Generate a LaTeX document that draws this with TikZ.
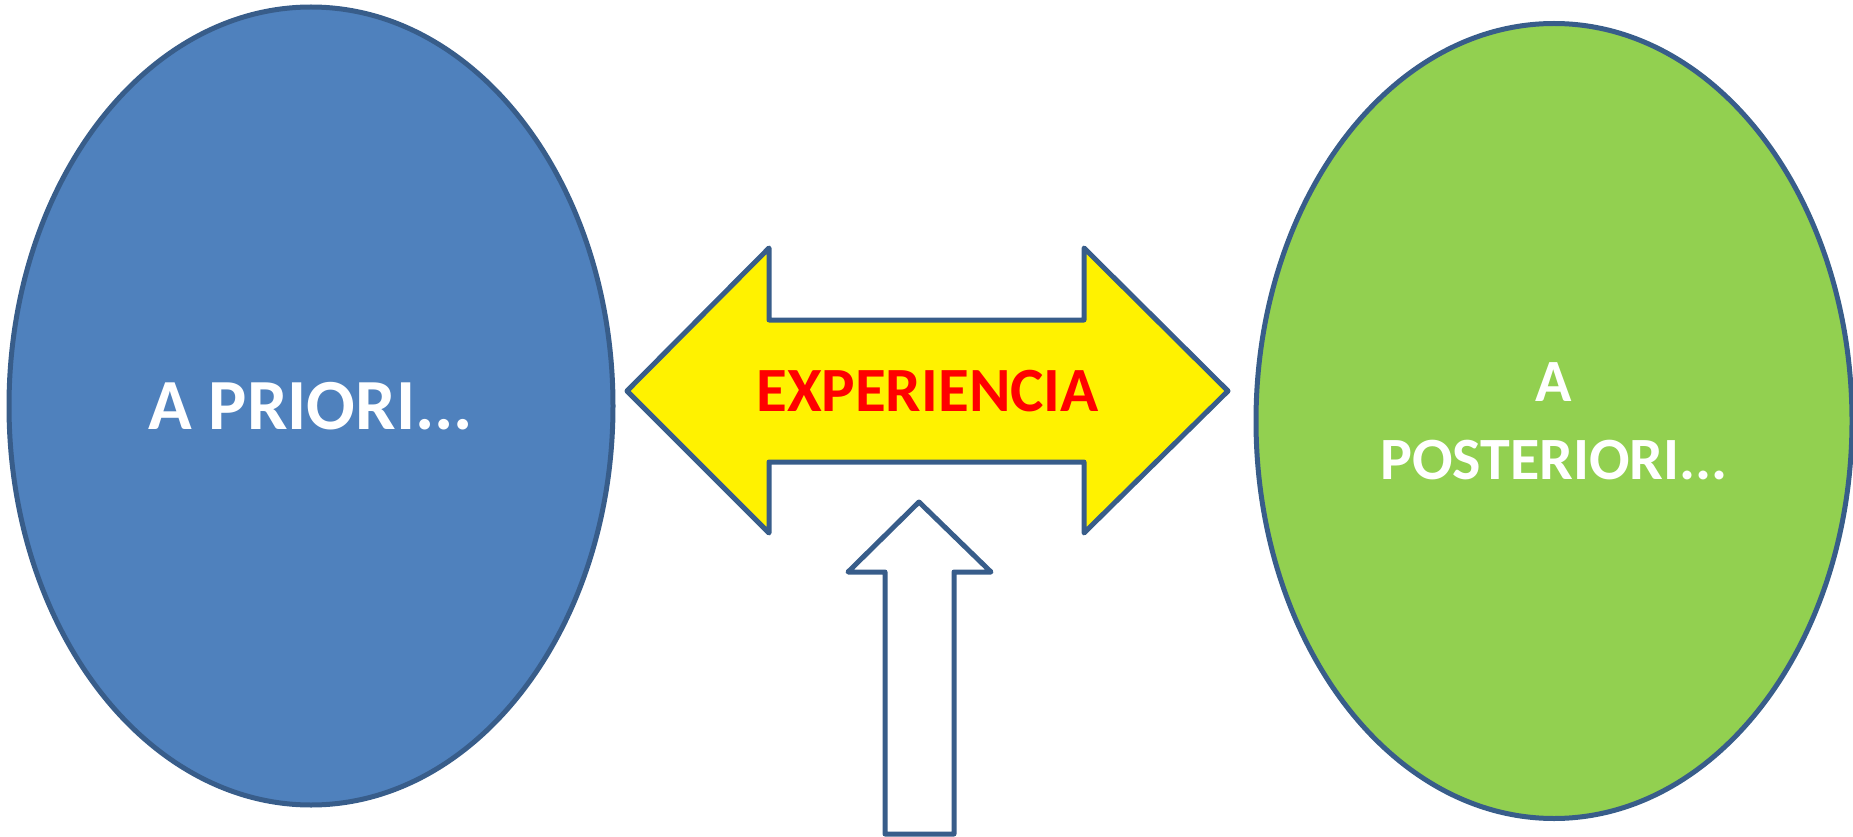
\documentclass[tikz,border=0pt]{standalone}
\usepackage{fontspec}
\setmainfont{Carlito}
\usetikzlibrary{positioning}
\usetikzlibrary{shapes.geometric}

\definecolor{edgeblue}{HTML}{385D8A}
\definecolor{prioriblue}{HTML}{4F81BD}
\definecolor{posteriorigreen}{HTML}{92D050}

\tikzset{
        every path/.style={line width=5pt, line join=round},
        bubble/.style={ellipse, draw=edgeblue, inner sep=0pt, text=white, align=center},
        blockarrow/.style={draw=edgeblue},
        }

\begin{document}
\begin{tikzpicture}[x=1pt, y=-1pt]

			\useasboundingbox (0,0) rectangle (1853,837);

			% left ellipse.....................
			\node [bubble, fill=prioriblue, minimum width=604, minimum height=798,
			       font=\fontsize{72}{86}\selectfont\bfseries] (apriori) at (311,406) {A PRIORI...};

			% right ellipse....................
			\node [bubble, fill=posteriorigreen, minimum width=596, minimum height=795,
			       font=\fontsize{60}{78}\selectfont\bfseries] (aposteriori) at (1554,421) {A\\POSTERIORI...};

			% double arrow between them..........
			\draw [blockarrow, fill=yellow] (627,391) -- (769,248) -- (769,320) -- (1084,320)
			      -- (1084,248) -- (1228,391) -- (1084,533) -- (1084,462) -- (769,462)
			      -- (769,533) -- cycle;
			\node [text=red, font=\fontsize{63}{76}\selectfont\bfseries] (experiencia) at (927.5,391) {EXPERIENCIA};

			% arrow pointing up...................
			\draw [blockarrow, fill=white] (919,502) -- (991,572) -- (954,572) -- (954,834)
			      -- (885,834) -- (885,572) -- (848,572) -- cycle;
		\end{tikzpicture}
\end{document}
